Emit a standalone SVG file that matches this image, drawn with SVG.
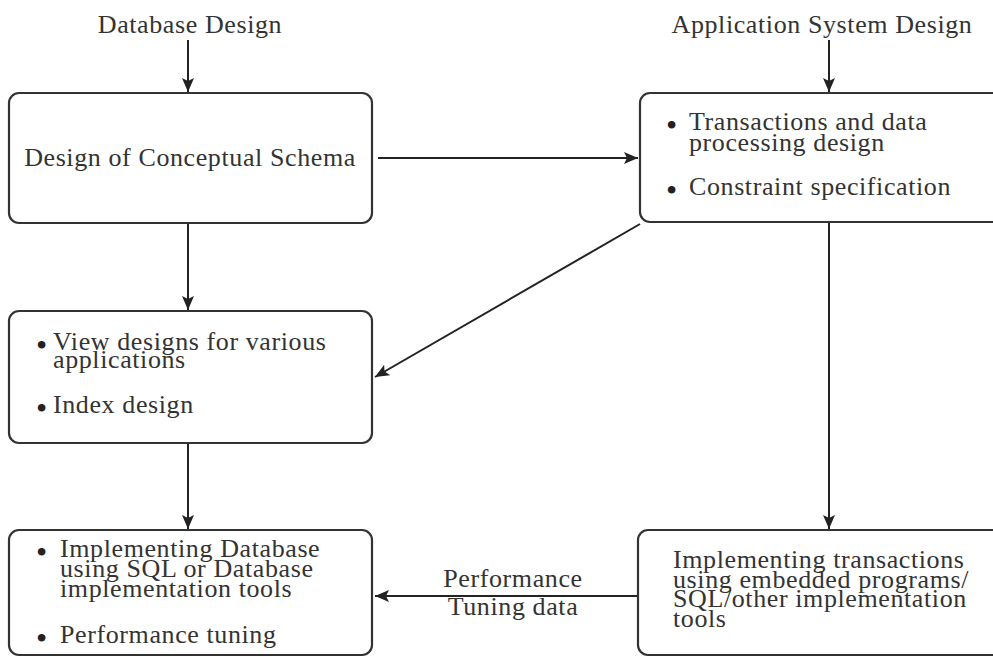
<svg xmlns="http://www.w3.org/2000/svg" width="993" height="657" viewBox="0 0 993 657">
<style>
.box{fill:#fff;stroke:#333;stroke-width:2.2}
.t{font-family:"Liberation Serif","Times New Roman",serif;font-size:26px;letter-spacing:0.6px;fill:#333}
.bs{font-size:32px;fill:#222;letter-spacing:0}
.c{stroke:#222;stroke-width:2;fill:none}
</style>
<defs>
<marker id="a" viewBox="0 0 14 12" refX="14" refY="6" markerWidth="14" markerHeight="12" markerUnits="userSpaceOnUse" orient="auto">
<path d="M0,0 L14,6 L0,12 L3,6 z" fill="#222"/>
</marker>
</defs>
<rect width="993" height="657" fill="#fff"/>
<g id="label-db"><text class="t" x="190" y="33" text-anchor="middle">Database Design</text></g>
<g id="label-app"><text class="t" x="822" y="33" text-anchor="middle">Application System Design</text></g>
<g id="conceptual">
<rect class="box" x="9" y="93" width="363" height="130" rx="10"/>
<text class="t" x="190" y="166" text-anchor="middle">Design of Conceptual Schema</text>
</g>
<g id="transactions">
<rect class="box" x="640" y="93" width="380" height="129" rx="10"/>
<text class="t" x="666" y="130"><tspan class="bs" dy="6">•</tspan><tspan x="689" dy="-6">Transactions and data</tspan></text>
<text class="t" x="689" y="151">processing design</text>
<text class="t" x="666" y="195"><tspan class="bs" dy="6">•</tspan><tspan x="689" dy="-6">Constraint specification</tspan></text>
</g>
<g id="views">
<rect class="box" x="9" y="311" width="363" height="132" rx="10"/>
<text class="t" x="36" y="350"><tspan class="bs" dy="6">•</tspan><tspan x="53" dy="-6">View designs for various</tspan></text>
<text class="t" x="53" y="368">applications</text>
<text class="t" x="36" y="413"><tspan class="bs" dy="6">•</tspan><tspan x="53" dy="-6">Index design</tspan></text>
</g>
<g id="impl-db">
<rect class="box" x="9" y="530" width="363" height="125" rx="10"/>
<text class="t" x="36" y="557"><tspan class="bs" dy="6">•</tspan><tspan x="60" dy="-6">Implementing Database</tspan></text>
<text class="t" x="60" y="577">using SQL or Database</text>
<text class="t" x="60" y="597">implementation tools</text>
<text class="t" x="36" y="643"><tspan class="bs" dy="6">•</tspan><tspan x="60" dy="-6">Performance tuning</tspan></text>
</g>
<g id="impl-tx">
<rect class="box" x="638" y="530" width="380" height="125" rx="10"/>
<text class="t" x="673" y="568">Implementing transactions</text>
<text class="t" x="673" y="588">using embedded programs/</text>
<text class="t" x="673" y="607">SQL/other implementation</text>
<text class="t" x="673" y="627">tools</text>
</g>
<g id="connectors">
<line class="c" x1="188" y1="40" x2="188" y2="92" marker-end="url(#a)"/>
<line class="c" x1="829" y1="40" x2="829" y2="92" marker-end="url(#a)"/>
<line class="c" x1="378" y1="158" x2="638" y2="158" marker-end="url(#a)"/>
<line class="c" x1="188" y1="224" x2="188" y2="310" marker-end="url(#a)"/>
<line class="c" x1="640" y1="224" x2="375" y2="377" marker-end="url(#a)"/>
<line class="c" x1="829" y1="223" x2="829" y2="529" marker-end="url(#a)"/>
<line class="c" x1="188" y1="444" x2="188" y2="529" marker-end="url(#a)"/>
<line class="c" x1="637" y1="596" x2="375" y2="596" marker-end="url(#a)"/>
<text class="t" x="513" y="587" text-anchor="middle">Performance</text>
<text class="t" x="513" y="615" text-anchor="middle">Tuning data</text>
</g>
</svg>
